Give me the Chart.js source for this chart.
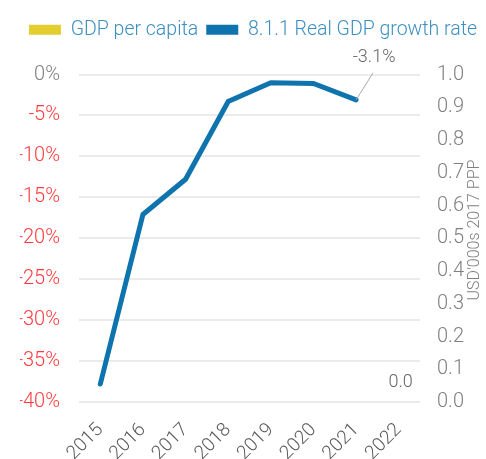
<!DOCTYPE html>
<html>
<head>
<meta charset="utf-8">
<script src="https://cdn.jsdelivr.net/npm/chart.js@4/dist/chart.umd.min.js"></script>
<style>
  html, body { margin: 0; padding: 0; background: #fff; }
  #wrap { width: 486px; height: 459px; }
</style>
</head>
<body>
<div id="wrap"><canvas id="chart" width="486" height="459"></canvas></div>
<script>
// --- Data ---
const years = ['2015', '2016', '2017', '2018', '2019', '2020', '2021', '2022'];
const gdpPerCapita = [null, null, null, null, null, null, null, 0];
const growthRate = [-37.8, -17.1, -12.8, -3.3, -1.0, -1.1, -3.1, null];
const leftTicks = [0, -5, -10, -15, -20, -25, -30, -35, -40];
const rightTitle = "USD'000s 2017 PPP";

const FONT = 'Roboto';

// extra room under the legend
const legendMargin = {
    id: 'legendMargin',
    beforeInit(chart) {
        const fit = chart.legend.fit;
        chart.legend.fit = function () {
            fit.bind(chart.legend)();
            this.height += 25;
        };
    }
};

// labels: "-3.1%" with a leader line, "0.0" above the last bar, right axis title
const labelPlugin = {
    id: 'labelPlugin',
    afterDatasetsDraw(chart) {
        const ctx = chart.ctx;
        const x = chart.scales.x, y = chart.scales.y, y1 = chart.scales.y1;
        ctx.save();
        ctx.font = '300 18px ' + FONT;
        ctx.fillStyle = '#666';
        ctx.textAlign = 'center';
        ctx.textBaseline = 'middle';

        // last growth value
        const i = 6;
        const px = x.getPixelForValue(i), py = y.getPixelForValue(growthRate[i]);
        ctx.strokeStyle = '#aaa';
        ctx.lineWidth = 1;
        ctx.beginPath();
        ctx.moveTo(px, py);
        ctx.lineTo(px + 17, py - 27);
        ctx.stroke();
        ctx.fillText(growthRate[i].toFixed(1) + '%', px + 18, py - 42);

        // bar value
        const j = 7;
        const bx = x.getPixelForValue(j), by = y1.getPixelForValue(gdpPerCapita[j]);
        ctx.fillText(gdpPerCapita[j].toFixed(1), bx + 2, by - 20);

        // right axis title, reading bottom to top
        ctx.font = '300 16px ' + FONT;
        ctx.fillStyle = '#7F7F7F';
        ctx.translate(475, 230);
        ctx.rotate(-Math.PI / 2);
        ctx.fillText(rightTitle, 0, 0);
        ctx.restore();
    }
};

const ctx = document.getElementById('chart').getContext('2d');
const chart = new Chart(ctx, {
    type: 'bar',
    data: {
        labels: years,
        datasets: [{
            type: 'bar',
            label: 'GDP per capita',
            data: gdpPerCapita,
            backgroundColor: '#E3CD2F',
            yAxisID: 'y1',
            order: 2
        }, {
            type: 'line',
            label: '8.1.1 Real GDP growth rate',
            data: growthRate,
            borderColor: '#0F74AD',
            backgroundColor: '#0F74AD',
            borderWidth: 5,
            borderCapStyle: 'round',
            pointRadius: 0,
            tension: 0,
            yAxisID: 'y',
            order: 1
        }]
    },
    options: {
        responsive: false,
        animation: false,
        layout: { padding: { left: 20, right: 0, top: 12, bottom: 0 } },
        plugins: {
            tooltip: { enabled: false },
            legend: {
                position: 'top',
                labels: {
                    boxWidth: 32,
                    boxHeight: 10,
                    padding: 8,
                    color: '#3C8FC0',
                    font: { family: FONT, size: 19.5, weight: '300' },
                    generateLabels(chart) {
                        return chart.data.datasets.map((ds, k) => ({
                            text: ds.label,
                            fillStyle: ds.type === 'line' ? ds.borderColor : ds.backgroundColor,
                            strokeStyle: 'transparent',
                            lineWidth: 0,
                            fontColor: '#3C8FC0',
                            datasetIndex: k
                        }));
                    }
                }
            }
        },
        scales: {
            x: {
                grid: { display: false, drawTicks: false },
                border: { display: false },
                afterFit(axis) { axis.height = 57; },
                ticks: {
                    color: '#595959',
                    font: { family: FONT, size: 19, weight: '300' },
                    maxRotation: 45,
                    minRotation: 45,
                    padding: 17
                }
            },
            y: {
                position: 'left',
                min: -40,
                max: 0,
                afterBuildTicks(axis) {
                    axis.ticks = leftTicks.map(v => ({ value: v }));
                },
                afterFit(axis) { axis.width = 59; },
                grid: { color: '#EBEBEB', lineWidth: 2, drawTicks: false },
                border: { display: false },
                ticks: {
                    padding: 19,
                    callback: v => v + '%',
                    color: c => (c.tick && c.tick.value < 0 ? '#FF3B3F' : '#7F7F7F'),
                    font: { family: FONT, size: 20, weight: '300' }
                }
            },
            y1: {
                position: 'right',
                min: 0,
                max: 1,
                afterFit(axis) { axis.width = 66; },
                grid: { display: false, drawTicks: false },
                border: { display: false },
                ticks: {
                    stepSize: 0.1,
                    padding: 17,
                    callback: v => Number(v).toFixed(1),
                    color: '#7F7F7F',
                    font: { family: FONT, size: 20, weight: '300' }
                }
            }
        }
    },
    plugins: [legendMargin, labelPlugin]
});
</script>
</body>
</html>
